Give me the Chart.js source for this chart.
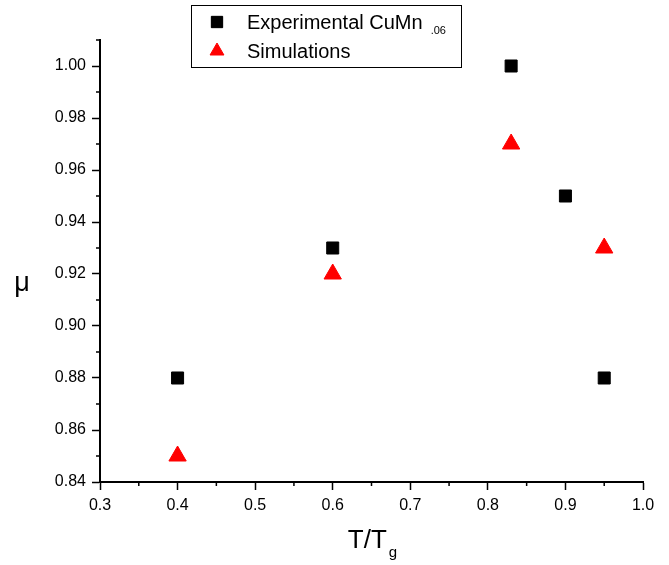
<!DOCTYPE html>
<html>
<head>
    <title>mu vs T/Tg</title>
    <style type="text/css">
        body { margin: 0; background: #fff; }
        #chart-container { width: 669px; height: 565px; }
    </style>
    <script type="text/javascript" src="https://cdn.jsdelivr.net/npm/chart.js@4/dist/chart.umd.min.js"></script>
</head>
<body>
    <div id="chart-container">
        <canvas id="graphCanvas" width="669" height="565"></canvas>
    </div>

    <script>
        // reduced temperature T/Tg
        var expT = [0.4, 0.6, 0.83, 0.9, 0.95];
        var expMu = [0.88, 0.93, 1.00, 0.95, 0.88];
        var simT = [0.4, 0.6, 0.83, 0.95];
        var simMu = [0.85, 0.92, 0.97, 0.93];

        var xTicks = [0.3, 0.4, 0.5, 0.6, 0.7, 0.8, 0.9, 1.0];
        var yTicks = [0.84, 0.86, 0.88, 0.90, 0.92, 0.94, 0.96, 0.98, 1.00];

        var expName = 'Experimental CuMn';
        var expSub = '.06';
        var simName = 'Simulations';

        var FONT = '"Liberation Sans", Arial, sans-serif';
        Chart.defaults.font.family = FONT;
        Chart.defaults.color = '#000';

        function toPoints(xs, ys) {
            var pts = [];
            for (var i = 0; i < xs.length; i++) {
                pts.push({ x: xs[i], y: ys[i] });
            }
            return pts;
        }

        // minor ticks, axis titles with subscripts and the boxed legend
        var decorations = {
            id: 'decorations',
            afterDraw: function (chart) {
                var ctx = chart.ctx;
                var xs = chart.scales.x, ys = chart.scales.y;
                var area = chart.chartArea;
                ctx.save();
                ctx.strokeStyle = '#000';
                ctx.lineWidth = 1.5;
                ctx.beginPath();
                for (var v = 0.35; v < 1.0; v += 0.1) {
                    var px = xs.getPixelForValue(v);
                    ctx.moveTo(px, area.bottom);
                    ctx.lineTo(px, area.bottom + 4);
                }
                for (var w = 0.85; w <= 1.011; w += 0.02) {
                    var py = ys.getPixelForValue(w);
                    ctx.moveTo(area.left, py);
                    ctx.lineTo(area.left - 4, py);
                }
                ctx.stroke();

                // x title T/Tg
                ctx.fillStyle = '#000';
                ctx.textBaseline = 'alphabetic';
                var main = 'T/T';
                ctx.font = '15px ' + FONT;
                var subW = ctx.measureText('g').width;
                ctx.font = '26px ' + FONT;
                var mainW = ctx.measureText(main).width;
                var cx = (area.left + area.right) / 2 + 1;
                var x0 = cx - (mainW + subW + 2) / 2;
                ctx.textAlign = 'left';
                ctx.fillText(main, x0, 548);
                ctx.font = '15px ' + FONT;
                ctx.fillText('g', x0 + mainW + 2, 557);

                // y title
                ctx.font = '27px ' + FONT;
                ctx.textAlign = 'center';
                ctx.fillText('\u03bc', 22, 291);

                // legend
                ctx.lineWidth = 1;
                ctx.strokeRect(191.5, 5.5, 270, 62);
                Chart.helpers.drawPoint(ctx, { pointStyle: 'rect', radius: 8, borderWidth: 1 }, 217, 22);
                ctx.fillStyle = '#000';
                ctx.fill();
                ctx.fillStyle = '#ff0000';
                ctx.strokeStyle = '#ff0000';
                Chart.helpers.drawPoint(ctx, { pointStyle: 'triangle', radius: 8, borderWidth: 1 }, 217, 51);
                ctx.fillStyle = '#000';
                ctx.textAlign = 'left';
                ctx.font = '20px ' + FONT;
                ctx.fillText(expName, 247, 29);
                var nameW = ctx.measureText(expName).width;
                ctx.font = '11px ' + FONT;
                ctx.fillText(expSub, 247 + nameW + 8, 34);
                ctx.font = '20px ' + FONT;
                ctx.fillText(simName, 247, 58);
                ctx.restore();
            }
        };

        var graphTarget = document.getElementById('graphCanvas');

        var scatter = new Chart(graphTarget, {
            type: 'scatter',
            data: {
                datasets: [
                    {
                        label: expName + expSub,
                        data: toPoints(expT, expMu),
                        pointStyle: 'rect',
                        pointRadius: 8.5,
                        pointBorderWidth: 1,
                        backgroundColor: '#000000',
                        borderColor: '#000000'
                    },
                    {
                        label: simName,
                        data: toPoints(simT, simMu),
                        pointStyle: 'triangle',
                        pointRadius: 10,
                        pointBorderWidth: 1,
                        backgroundColor: '#ff0000',
                        borderColor: '#ff0000'
                    }
                ]
            },
            options: {
                responsive: false,
                animation: false,
                events: [],
                layout: { padding: { top: 40, right: 26, bottom: 0, left: 0 } },
                plugins: {
                    legend: { display: false },
                    tooltip: { enabled: false }
                },
                scales: {
                    x: {
                        type: 'linear',
                        min: 0.3,
                        max: 1.0,
                        afterBuildTicks: function (s) {
                            s.ticks = xTicks.map(function (v) { return { value: v }; });
                        },
                        afterFit: function (s) { s.height = 83; },
                        ticks: {
                            autoSkip: false,
                            maxRotation: 0,
                            padding: 6,
                            font: { size: 16 },
                            callback: function (v) { return Number(v).toFixed(1); }
                        },
                        grid: {
                            drawOnChartArea: false,
                            tickLength: 8,
                            tickWidth: 1.5,
                            tickColor: '#000'
                        },
                        border: { display: true, color: '#000', width: 2 }
                    },
                    y: {
                        type: 'linear',
                        min: 0.84,
                        max: 1.01,
                        afterBuildTicks: function (s) {
                            s.ticks = yTicks.map(function (v) { return { value: v }; });
                        },
                        afterFit: function (s) { s.width = 100; },
                        ticks: {
                            autoSkip: false,
                            padding: 6,
                            font: { size: 16 },
                            callback: function (v) { return Number(v).toFixed(2); }
                        },
                        grid: {
                            drawOnChartArea: false,
                            tickLength: 8,
                            tickWidth: 1.5,
                            tickColor: '#000'
                        },
                        border: { display: true, color: '#000', width: 2 }
                    }
                }
            },
            plugins: [decorations]
        });
    </script>
</body>
</html>
